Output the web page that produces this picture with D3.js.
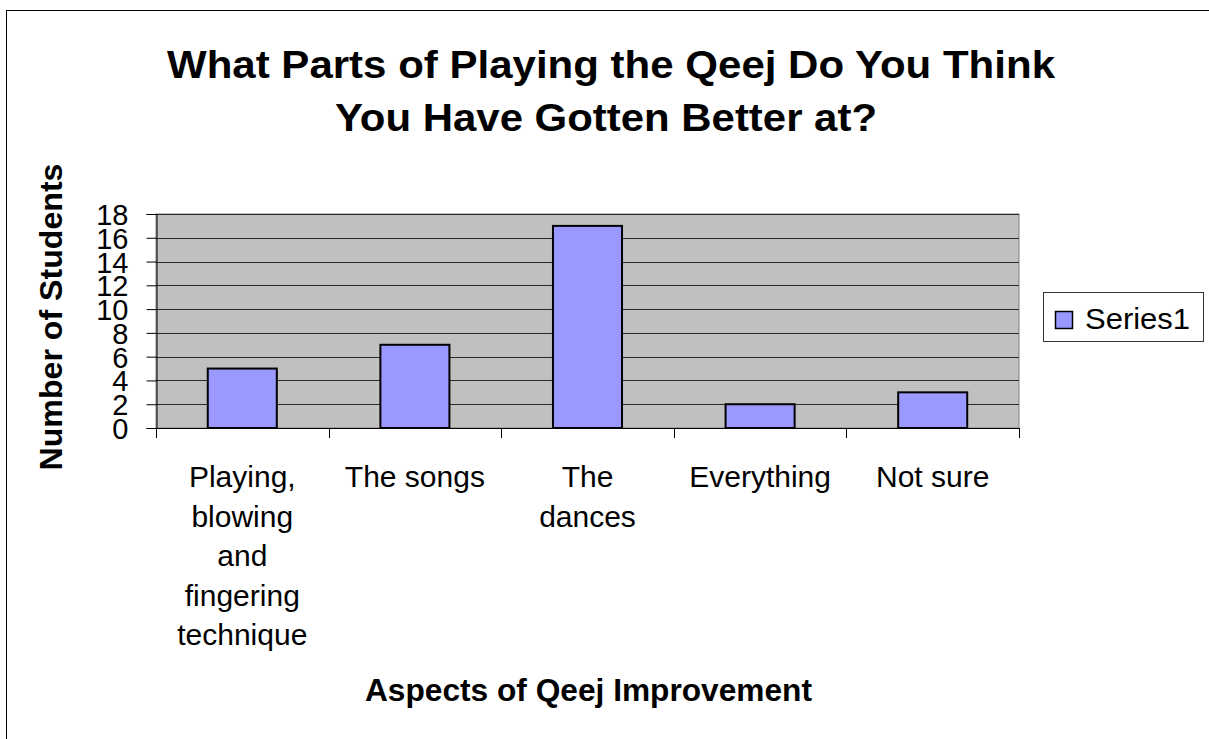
<!DOCTYPE html>
<html>
<head>
<meta charset="utf-8">
<script src="https://cdn.jsdelivr.net/npm/d3@7"></script>
<style>
  html, body { margin: 0; padding: 0; background: #fff; }
  svg { display: block; font-family: Arial, "Liberation Sans", sans-serif; }
</style>
</head>
<body>
<svg id="chart" width="1209" height="739"></svg>
<script>
const titleLines = ["What Parts of Playing the Qeej Do You Think", "You Have Gotten Better at?"];
const categories = ["Playing, blowing and fingering technique", "The songs", "The dances", "Everything", "Not sure"];
const values = [5, 7, 17, 2, 3];
const yTicks = [0, 2, 4, 6, 8, 10, 12, 14, 16, 18];
const seriesName = "Series1";
const xAxisTitle = "Aspects of Qeej Improvement";
const yAxisTitle = "Number of Students";

const svg = d3.select("#chart");
const plot = { left: 156, right: 1019, top: 214, bottom: 428 };

// outer chart border
svg.append("rect").attr("x", 6.5).attr("y", 10.5).attr("width", 1400).attr("height", 1000)
  .attr("fill", "#fff").attr("stroke", "#000").attr("stroke-width", 1);

// title
const titleBaselines = [78, 131];
const titleLengths = [888, 542];
const titleCx = [611, 606];
titleLines.forEach((t, i) => {
  svg.append("text").attr("x", titleCx[i]).attr("y", titleBaselines[i])
    .attr("text-anchor", "middle").attr("font-size", 38).attr("font-weight", "bold")
    .attr("textLength", titleLengths[i]).attr("lengthAdjust", "spacingAndGlyphs")
    .text(t);
});

const x = d3.scaleBand().domain(categories).range([plot.left, plot.right]).paddingInner(0).paddingOuter(0);
const y = d3.scaleLinear().domain([0, 18]).range([plot.bottom, plot.top]);

// plot area
svg.append("rect").attr("x", plot.left).attr("y", plot.top)
  .attr("width", plot.right - plot.left).attr("height", plot.bottom - plot.top)
  .attr("fill", "#C0C0C0").attr("stroke", "#808080").attr("stroke-width", 1);

// gridlines
svg.append("g").selectAll("line").data(yTicks.filter(d => d > 0)).join("line")
  .attr("x1", plot.left).attr("x2", plot.right)
  .attr("y1", d => Math.round(y(d)) + 0.5).attr("y2", d => Math.round(y(d)) + 0.5)
  .attr("stroke", "#2a2a2a").attr("stroke-width", 1);

// bars
const bw = x.bandwidth() / 2.5;
svg.append("g").selectAll("rect").data(values).join("rect")
  .attr("x", (d, i) => x(categories[i]) + (x.bandwidth() - bw) / 2)
  .attr("y", d => y(d))
  .attr("width", bw)
  .attr("height", d => y(0) - y(d))
  .attr("fill", "#9999FF").attr("stroke", "#000").attr("stroke-width", 2);

// y axis
const yAxis = d3.axisLeft(y).tickValues(yTicks).tickSize(10).tickPadding(18).tickFormat(d3.format("d"));
const gy = svg.append("g").attr("transform", `translate(${plot.left + 0.5},0)`).call(yAxis);
gy.select(".domain").attr("stroke", "#000");
gy.selectAll(".tick line").attr("stroke", "#000");
gy.selectAll(".tick text").attr("font-size", 29).attr("fill", "#000")
  .attr("font-family", "Arial, 'Liberation Sans', sans-serif").attr("dy", "0.36em");

// x axis
const xAxisLine = svg.append("g");
xAxisLine.append("line").attr("x1", plot.left).attr("x2", plot.right + 1)
  .attr("y1", plot.bottom + 0.5).attr("y2", plot.bottom + 0.5).attr("stroke", "#000");
const boundaries = categories.map(c => x(c)).concat([x(categories[categories.length - 1]) + x.bandwidth()]);
xAxisLine.selectAll("line.tk").data(boundaries).join("line").attr("class", "tk")
  .attr("x1", d => Math.round(d) + 0.5).attr("x2", d => Math.round(d) + 0.5)
  .attr("y1", plot.bottom).attr("y2", plot.bottom + 10).attr("stroke", "#000");

// category labels (wrapped)
const labelG = svg.append("g");
categories.forEach((c, i) => {
  const cx = x(c) + x.bandwidth() / 2;
  const t = labelG.append("text").attr("text-anchor", "middle").attr("font-size", 30).attr("fill", "#000");
  const words = c.split(" ");
  let lines = [];
  let line = [];
  const probe = svg.append("text").attr("font-size", 30).attr("visibility", "hidden");
  words.forEach(w => {
    const test = line.concat([w]).join(" ");
    probe.text(test);
    if (line.length && probe.node().getComputedTextLength() > 150) {
      lines.push(line.join(" "));
      line = [w];
    } else {
      line.push(w);
    }
  });
  lines.push(line.join(" "));
  probe.remove();
  lines.forEach((l, j) => {
    t.append("tspan").attr("x", cx).attr("y", 487 + j * 39.5).text(l);
  });
});

// axis titles
svg.append("text").attr("x", 588.5).attr("y", 701).attr("text-anchor", "middle")
  .attr("font-size", 31).attr("font-weight", "bold")
  .attr("textLength", 447).attr("lengthAdjust", "spacingAndGlyphs").text(xAxisTitle);

svg.append("text").attr("transform", "translate(62,317) rotate(-90)").attr("text-anchor", "middle")
  .attr("font-size", 31).attr("font-weight", "bold")
  .attr("textLength", 307).attr("lengthAdjust", "spacingAndGlyphs").text(yAxisTitle);

// legend
const lg = svg.append("g");
lg.append("rect").attr("x", 1043.5).attr("y", 292.5).attr("width", 160).attr("height", 49)
  .attr("fill", "#fff").attr("stroke", "#333").attr("stroke-width", 1);
lg.append("rect").attr("x", 1055.5).attr("y", 311.5).attr("width", 17).attr("height", 17)
  .attr("fill", "#9999FF").attr("stroke", "#000").attr("stroke-width", 1.5);
lg.append("text").attr("x", 1085).attr("y", 329).attr("font-size", 30).attr("fill", "#000")
  .attr("textLength", 105).attr("lengthAdjust", "spacingAndGlyphs").text(seriesName);
</script>
</body>
</html>
